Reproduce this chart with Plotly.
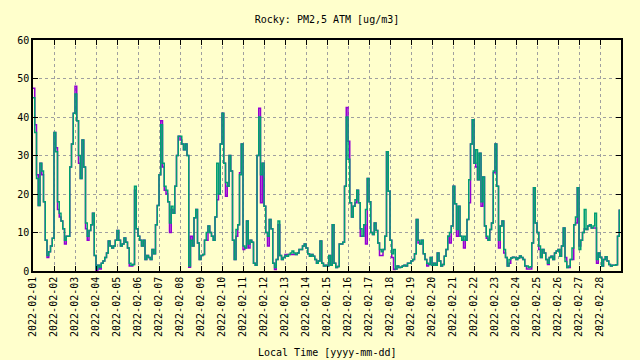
import pandas as pd
import plotly.graph_objects as go

# 2-hourly PM2.5 ATM readings (ug/m3), Feb 1 - Feb 28 2022, 12 values per day
green_values = [
    45, 36, 24, 17, 28, 26, 18, 8, 4, 5, 6.5, 8.5,
    36, 31, 18, 15, 13, 11, 8, 9, 9, 27, 33, 41,
    46, 39, 30, 24, 34, 27, 12.5, 9, 10.5, 12, 15, 4,
    0.5, 1.5, 1, 2, 2.6, 3.5, 4.7, 7.8, 6.5, 6, 6.5, 8,
    10.5, 8, 6.5, 7, 8.6, 7.5, 6, 2, 1.5, 1.7, 22, 11,
    9, 8, 6.5, 8, 3, 4, 3.5, 3, 5.6, 4.5, 12, 17,
    25, 38, 28, 22, 21, 18, 12.5, 16.8, 15, 22, 30, 35,
    35, 33, 31.5, 33, 30, 1.3, 8, 6.5, 13.8, 16, 7.3, 3,
    4, 4.3, 8, 10, 11.7, 10, 9, 8, 14, 28, 20, 33,
    41, 28, 23, 22, 30, 26, 8, 3, 10.8, 12, 25, 33,
    6.5, 6, 13, 7, 8, 7.5, 2, 1.5, 30, 40, 25, 28,
    16.8, 10, 9, 13.4, 11, 2, 0.9, 3, 13, 4, 3, 3.5,
    4, 3.8, 4.3, 4.7, 5.2, 4.7, 4.3, 4.7, 5.6, 5.6, 6.5, 7,
    6, 4.5, 3.8, 4.3, 3.8, 3, 2, 2.6, 7.8, 2, 1.3, 1.5,
    1.3, 4, 1.5, 12, 2, 0.9, 1.2, 7, 7, 7.5, 22, 40,
    29, 17.7, 14, 16.8, 18.5, 21, 17.7, 11, 9, 12, 16, 24,
    18, 10, 9.5, 12.5, 10.5, 7.3, 5.6, 5, 5.6, 9, 31, 20.7,
    8, 4.5, 5.6, 0.5, 1.3, 0.9, 1, 1.3, 1.5, 1.3, 2, 2,
    2.6, 3, 4.5, 13.4, 8, 7, 8, 4.5, 3, 2, 1.7, 3.5,
    1.5, 2, 1.5, 4.7, 2.6, 1.3, 1.7, 3.8, 5.6, 9, 10, 11.7,
    22, 17.5, 10.8, 16.8, 9, 8, 9, 8, 13.4, 23.7, 33, 39.3,
    28, 31.5, 23.7, 30.6, 18, 24.4, 11.7, 9, 8, 10.8, 12.5, 26,
    33, 22, 8, 11.7, 13, 5.6, 3.5, 1.3, 3, 3.4, 3.6, 3.5,
    3, 3.4, 3.9, 3.5, 3, 1.3, 1.3, 0.9, 1.1, 7.3, 21.6, 12.5,
    10, 6.5, 3.5, 5.6, 4.7, 3, 2, 3.5, 3.8, 3, 4.7, 5.2,
    5.6, 3.8, 6.5, 11.2, 2.5, 0.9, 1.3, 3, 6, 12, 14, 21.6,
    5.6, 8, 10, 16, 10.8, 11.7, 12, 11.2, 11.7, 15, 3, 4.7,
    3.6, 1.3, 3, 3.7, 2.6, 1.7, 1.3, 1.5, 1.5, 1.6, 9, 16,
]

purple_values = [
    47.5, 38, 25, 17, 28, 25, 18, 8, 3.5, 5, 6.5, 8.5,
    36, 32, 16, 14, 13, 11, 7, 9, 9, 27, 33, 41,
    48, 39, 28, 24, 34, 27, 11, 8, 10.5, 12, 15, 4,
    0, 1.5, 0.5, 2, 2.6, 3.5, 4.7, 7.8, 6.5, 6, 6.5, 8,
    10.5, 8, 6.5, 7, 8.6, 7.5, 6, 1.3, 1.3, 1.7, 21, 11,
    9, 8, 6.5, 8, 3, 4, 3.5, 3, 5.6, 4.5, 12, 17,
    25, 39, 27, 21, 20, 18, 10, 16, 15, 22, 30, 35,
    34, 33, 31.5, 33, 30, 1, 9, 6.5, 13.8, 16, 7.3, 3,
    4, 4.3, 8, 8, 11.7, 10, 9, 8, 14, 18.5, 20, 33,
    41, 28, 19.4, 22, 30, 26, 8, 3, 9, 12, 25.5, 33,
    5.6, 6, 13, 6, 8, 7.5, 2, 1.5, 30, 42.3, 17.7, 28,
    16.8, 10, 6.5, 13.4, 11, 2, 0.4, 3, 12, 4, 3, 3.5,
    4.3, 4.3, 4.3, 4.3, 4.3, 4.3, 4.3, 4.7, 5.6, 5.6, 6.5, 7,
    6, 4.5, 3.8, 4.3, 3.8, 3, 2, 2.6, 7.8, 2, 1.3, 1.5,
    1.3, 4, 1.5, 12, 2, 0.9, 1.2, 7, 7, 7.5, 22, 42.5,
    33.7, 17.7, 14, 16.8, 17.7, 21, 17.7, 9, 9, 12, 7, 24,
    18, 10, 9.5, 12.5, 10.5, 7.3, 4, 4, 5.6, 9, 31, 20.7,
    8, 3.5, 0.4, 0.5, 1.3, 0.9, 1, 1.3, 1.5, 1.3, 2, 2,
    2.6, 3, 4.5, 13.4, 7.3, 7, 8, 4.5, 3, 1.3, 1.7, 3.5,
    1.5, 2, 1.5, 4.7, 2.6, 1.3, 1.7, 3.8, 5.6, 9, 7.3, 11.7,
    22, 17.5, 9, 16.8, 9, 8, 6, 8, 13.4, 17.7, 33, 39.3,
    28, 27, 23.7, 30.6, 16.8, 24.4, 11.7, 8.5, 8, 10.8, 12.5, 25.5,
    33, 22, 6, 11.7, 13, 4.7, 3.5, 1.3, 2, 3.4, 3.6, 3.5,
    3, 3.4, 3.9, 3.5, 3, 1.3, 0.5, 0.5, 0.5, 7.3, 21.6, 12.5,
    10, 5.6, 3.5, 5.6, 4.7, 3, 1.7, 3.5, 3.8, 3, 4.7, 5.2,
    5.6, 3.8, 6.5, 11.2, 3.5, 0.9, 0.9, 3, 3, 12, 12.5, 21.6,
    6.5, 8, 10, 11, 10.8, 11.7, 12, 11.2, 11.2, 11.2, 2, 4.7,
    3.6, 1.3, 3, 3.7, 2.6, 1.7, 1.3, 1.5, 1.5, 1.6, 9, 16,
]

times = pd.date_range("2022-02-01", periods=len(green_values), freq="2h")
tick_dates = [f"2022-02-{d:02d}" for d in range(1, 29)]
y_ticks = [0, 10, 20, 30, 40, 50, 60]

BG = "#FFFFCC"
FONT = "DejaVu Sans Mono"

fig = go.Figure()
fig.add_trace(go.Scatter(x=times, y=purple_values, mode="lines",
                         line=dict(color="#9400D3", width=1.5, shape="hv")))
fig.add_trace(go.Scatter(x=times, y=green_values, mode="lines",
                         line=dict(color="#009E73", width=1.5, shape="hv")))

fig.update_layout(
    width=640, height=360,
    margin=dict(l=33, r=19, t=40, b=89),
    paper_bgcolor=BG, plot_bgcolor=BG,
    showlegend=False,
    font=dict(family=FONT, size=10, color="black"),
    title=dict(text="Rocky: PM2,5 ATM [ug/m3]", x=0.5, xref="paper",
               y=1 - 19 / 360, yref="container", yanchor="middle",
               font=dict(family=FONT, size=10, color="black")),
)
fig.update_xaxes(
    range=["2022-02-01", "2022-03-01"],
    tickvals=tick_dates, ticktext=tick_dates, tickangle=-90,
    showgrid=True, gridcolor="#A0A0A0", griddash="3px,3px", gridwidth=1,
    showline=True, linecolor="black", linewidth=1.5, mirror="ticks",
    ticks="inside", ticklen=5, tickcolor="black", zeroline=False,
)
fig.update_yaxes(
    range=[0, 60], tickvals=y_ticks,
    showgrid=True, gridcolor="#A0A0A0", griddash="3px,3px", gridwidth=1,
    showline=True, linecolor="black", linewidth=1.5, mirror="ticks",
    ticks="inside", ticklen=5, tickcolor="black", zeroline=False,
)
fig.add_annotation(text="Local Time [yyyy-mm-dd]", x=0.5, xref="paper",
                   y=-81 / 231, yref="paper", yanchor="middle", showarrow=False,
                   font=dict(family=FONT, size=10, color="black"))
fig.write_html("out.html", config={"displayModeBar": False},
               post_script="document.body.style.margin='0';document.body.style.background='#FFFFCC';")
